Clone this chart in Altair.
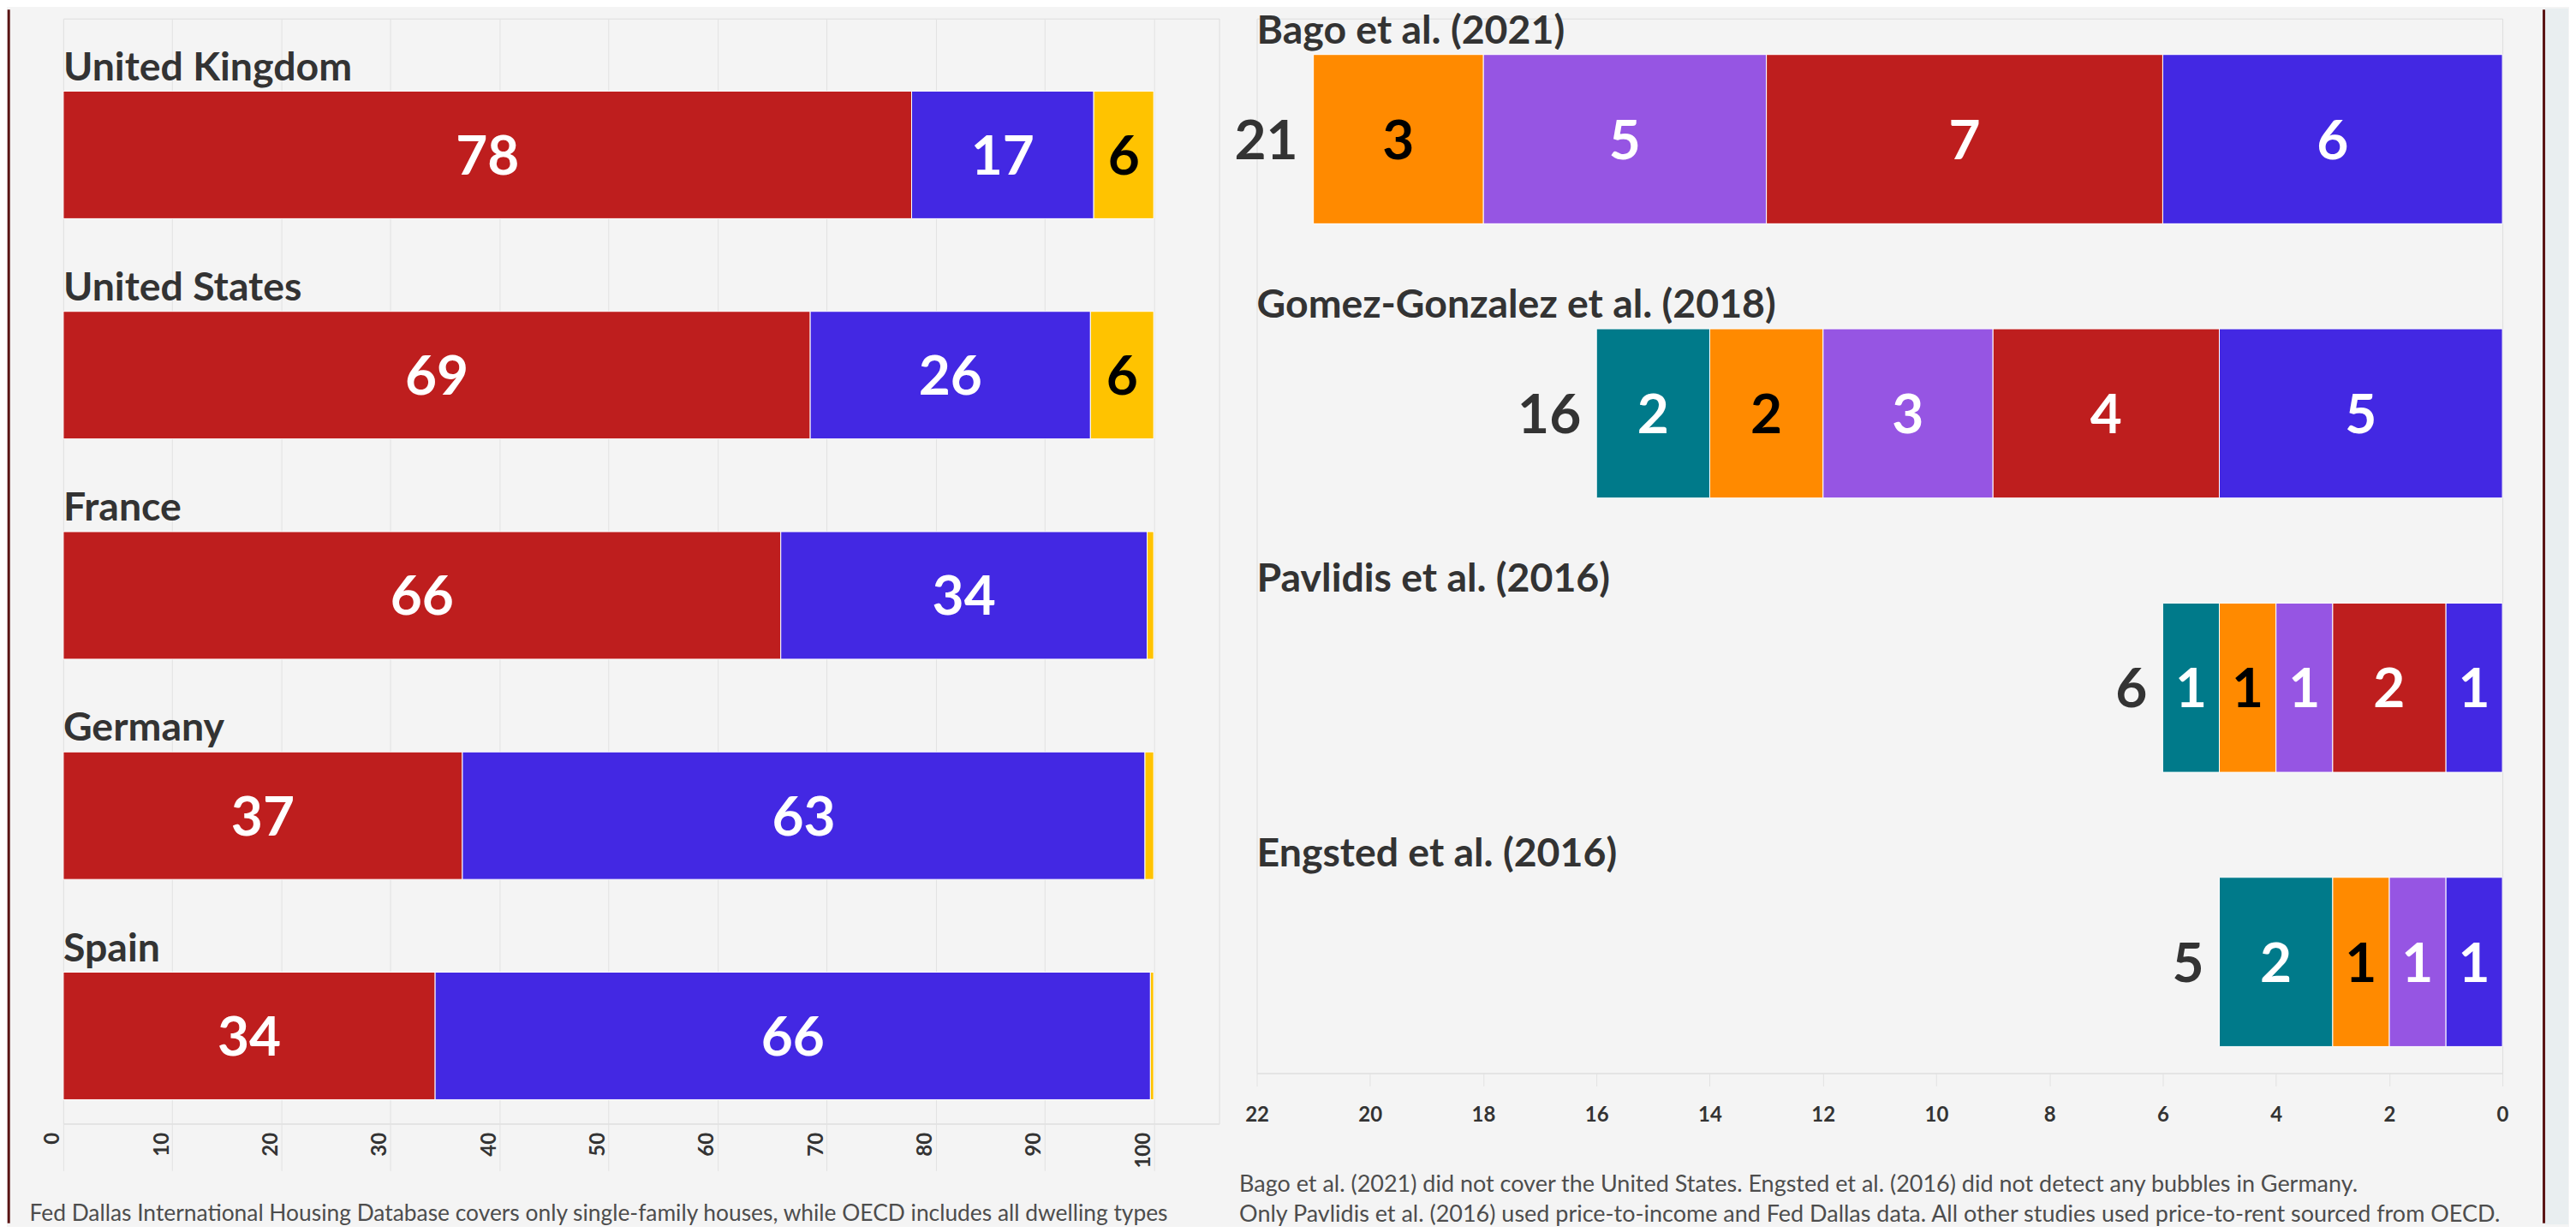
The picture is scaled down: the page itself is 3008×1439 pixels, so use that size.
import altair as alt
import pandas as pd

FONT = "Lato"
TXT = "#333333"
GRID = "#e2e2e2"
NOTE = "#4d4d4d"
FRAME = "#5a1414"

# ---------------- Left panel data ----------------
countries = ["United Kingdom", "United States", "France", "Germany", "Spain"]
left_series = ["Single-family houses", "Multi-family dwellings", "Other"]
left_colors = ["#be1e1e", "#4328e3", "#ffc300"]
left_text_colors = ["white", "white", "black"]
houses = [77.8, 68.5, 65.8, 36.6, 34.1]
flats = [16.7, 25.7, 33.6, 62.6, 65.6]
other = [5.5, 5.8, 0.6, 0.8, 0.3]
left_ticks = [0, 10, 20, 30, 40, 50, 60, 70, 80, 90, 100]
left_note = ("Fed Dallas International Housing Database covers only single-family houses, "
             "while OECD includes all dwelling types")

# ---------------- Right panel data ----------------
studies = ["Bago et al. (2021)", "Gomez-Gonzalez et al. (2018)",
           "Pavlidis et al. (2016)", "Engsted et al. (2016)"]
right_series = ["Group A", "Group B", "Group C", "Group D", "Group E"]  # stacked from 0 (right) to left
right_colors = ["#4328e3", "#be1e1e", "#9655e3", "#ff8a00", "#007a8a"]
right_text_colors = ["white", "white", "white", "black", "white"]
grp_blue = [6, 5, 1, 1]
grp_red = [7, 4, 2, 0]
grp_purple = [5, 3, 1, 1]
grp_orange = [3, 2, 1, 1]
grp_teal = [0, 2, 1, 2]
right_ticks = [0, 2, 4, 6, 8, 10, 12, 14, 16, 18, 20, 22]
right_note = [
    "Bago et al. (2021) did not cover the United States. Engsted et al. (2016) did not detect any bubbles in Germany.",
    "Only Pavlidis et al. (2016) used price-to-income and Fed Dallas data. All other studies used price-to-rent sourced from OECD.",
]

left_rows = []
for i, c in enumerate(countries):
    for j, vals in enumerate([houses, flats, other]):
        left_rows.append({"country": c, "series": left_series[j], "ord": j,
                          "value": vals[i], "tcolor": left_text_colors[j]})
left_df = pd.DataFrame(left_rows)

right_rows = []
for i, s in enumerate(studies):
    for j, vals in enumerate([grp_blue, grp_red, grp_purple, grp_orange, grp_teal]):
        right_rows.append({"study": s, "series": right_series[j], "ord": j,
                           "value": vals[i], "tcolor": right_text_colors[j]})
right_df = pd.DataFrame(right_rows)

frame_df = pd.DataFrame({"frame": [0]})

# ---------------- Left panel ----------------
LW, LH = 1351, 1292
xL_scale = alt.Scale(domain=[0, 106], nice=False, zero=True)
yL = alt.Y("country:N", sort=countries, axis=None,
           scale=alt.Scale(domain=countries, paddingInner=0.421, paddingOuter=0.219, align=0.752))
left_axis = alt.Axis(
    values=left_ticks, format="d", grid=True, gridColor=GRID, gridWidth=1,
    domainColor=GRID, domainWidth=1.5, tickColor=GRID, tickWidth=1, tickSize=55,
    labelAngle=270, labelAlign="right", labelBaseline="alphabetic",
    labelPadding=-45, labelOffset=-5, labelFlush=False, labelOverlap=False,
    labelFont=FONT, labelFontSize=24, labelFontWeight="bold", labelColor=TXT,
    title=left_note, titleX=-40, titleY=113, titleAlign="left", titleAnchor="start",
    titleBaseline="alphabetic", titleAngle=0, titleFont=FONT, titleFontSize=26.4,
    titleFontWeight="normal", titleColor=NOTE, titleLimit=3000,
)

left_base = alt.Chart(left_df).transform_stack(
    stack="value", groupby=["country"], as_=["x0", "x1"],
    sort=[alt.SortField("ord", order="ascending")]
).transform_calculate(mid="(datum.x0 + datum.x1) / 2")

left_bars = left_base.mark_bar(stroke="white", strokeWidth=1).encode(
    x=alt.X("x0:Q", scale=xL_scale, axis=left_axis),
    x2="x1:Q",
    y=yL,
    color=alt.Color("series:N", scale=alt.Scale(domain=left_series, range=left_colors), legend=None),
)
left_vals = left_base.transform_filter("datum.value >= 2").mark_text(
    font=FONT, fontSize=64, fontWeight="bold", baseline="middle", align="center", dy=4
).encode(
    x="mid:Q", y=yL,
    text=alt.Text("value:Q", format=".0f"),
    color=alt.Color("tcolor:N", scale=None),
)
left_names = alt.Chart(pd.DataFrame({"country": countries})).mark_text(
    align="left", baseline="alphabetic", dy=-87.5, font=FONT, fontSize=46.5,
    fontWeight="bold", color=TXT
).encode(x=alt.datum(0), y=yL, text="country:N")
left_border = alt.Chart(frame_df).mark_rule(color=FRAME, strokeWidth=3).encode(
    x=alt.value(-63.8), y=alt.value(-10.5), y2=alt.value(1408.5))

left = alt.layer(left_bars, left_vals, left_names, left_border).properties(width=LW, height=LH)

# ---------------- Right panel ----------------
RW, RH = 1456, 1233
xR_scale = alt.Scale(domain=[0, 22], reverse=True, nice=False)
yR = alt.Y("study:N", sort=studies, axis=None,
           scale=alt.Scale(domain=studies, paddingInner=0.383, paddingOuter=0.114, align=0.575))
right_axis = alt.Axis(
    values=right_ticks, format="d", grid=False, domainColor=GRID, domainWidth=1.5,
    tickColor=GRID, tickWidth=1, tickSize=15,
    labelAngle=0, labelBaseline="top", labelPadding=22, labelFlush=False, labelOverlap=False,
    labelFont=FONT, labelFontSize=24, labelFontWeight="bold", labelColor=TXT,
    title=right_note, titleX=-21, titleY=138, titleAlign="left", titleAnchor="start",
    titleBaseline="alphabetic", titleAngle=0, titleFont=FONT, titleFontSize=27,
    titleFontWeight="normal", titleColor=NOTE, titleLimit=3000, titleLineHeight=35,
)

right_base = alt.Chart(right_df).transform_stack(
    stack="value", groupby=["study"], as_=["x0", "x1"],
    sort=[alt.SortField("ord", order="ascending")]
).transform_calculate(mid="(datum.x0 + datum.x1) / 2").transform_filter("datum.value > 0")

right_strip = alt.Chart(frame_df).mark_rect(color="#e9eef0").encode(
    x=alt.value(1506), x2=alt.value(1533), y=alt.value(-12), y2=alt.value(1410))
right_bars = right_base.mark_bar(stroke="white", strokeWidth=1).encode(
    x=alt.X("x0:Q", scale=xR_scale, axis=right_axis),
    x2="x1:Q",
    y=yR,
    color=alt.Color("series:N", scale=alt.Scale(domain=right_series, range=right_colors), legend=None),
)
right_vals = right_base.mark_text(
    font=FONT, fontSize=64, fontWeight="bold", baseline="middle", align="center", dy=4
).encode(
    x="mid:Q", y=yR, text=alt.Text("value:Q", format=".0f"),
    color=alt.Color("tcolor:N", scale=None),
)
right_totals = alt.Chart(right_df).transform_aggregate(
    total="sum(value)", groupby=["study"]
).mark_text(
    align="right", baseline="middle", dx=-18, dy=4, font=FONT, fontSize=64,
    fontWeight="bold", color=TXT
).encode(x="total:Q", y=yR, text=alt.Text("total:Q", format=".0f"))
right_names = alt.Chart(pd.DataFrame({"study": studies})).mark_text(
    align="left", baseline="alphabetic", dy=-112, font=FONT, fontSize=46.5,
    fontWeight="bold", color=TXT
).encode(x=alt.datum(22), y=yR, text="study:N")
right_border = alt.Chart(frame_df).mark_rule(color=FRAME, strokeWidth=3).encode(
    x=alt.value(1504.5), y=alt.value(-10.5), y2=alt.value(1408.5))

right = alt.layer(right_strip, right_bars, right_vals, right_totals, right_names,
                  right_border).properties(width=RW, height=RH)

chart = alt.hconcat(left, right, spacing=16).resolve_scale(
    color="independent", x="independent", y="independent"
).properties(
    padding=0, background="#f4f4f4"
).configure_view(stroke="transparent").configure(font=FONT)

chart.save("out.html", embed_options={"renderer": "svg", "actions": False})
